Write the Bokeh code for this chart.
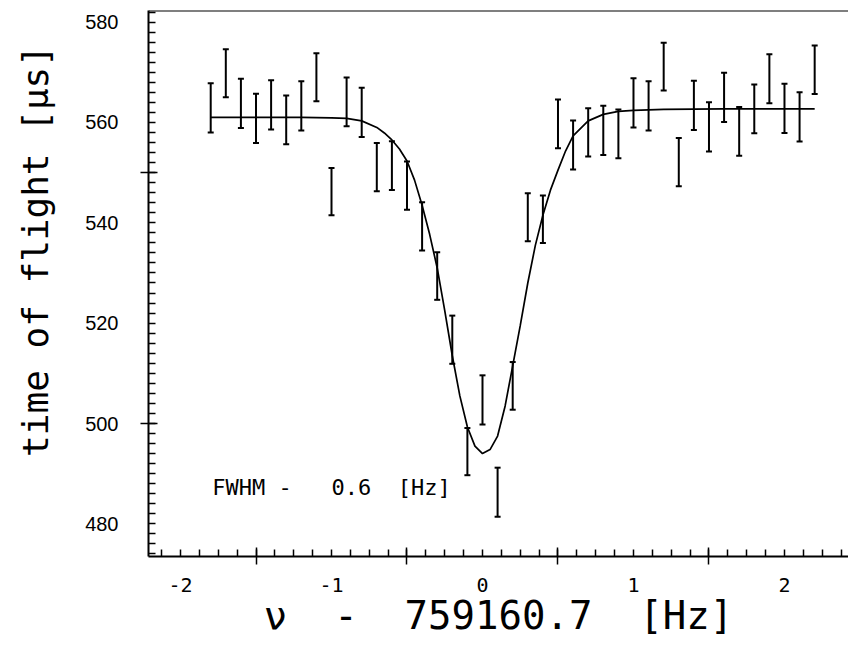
import numpy as np
from bokeh.plotting import figure
from bokeh.models import (ColumnDataSource, Whisker, TeeHead, LinearAxis,
                          FixedTicker, Span, Label, Range1d, CustomJSTickFormatter)
from bokeh.embed import file_html
from bokeh.resources import INLINE

# ---------------- data ----------------
freq = [-1.8, -1.7, -1.6, -1.5, -1.4, -1.3, -1.2, -1.1, -1.0, -0.9, -0.8,
        -0.7, -0.6, -0.5, -0.4, -0.3, -0.2, -0.1, 0.0, 0.1, 0.2,
        0.3, 0.4, 0.5, 0.6, 0.7, 0.8, 0.9, 1.0, 1.1, 1.2,
        1.3, 1.4, 1.5, 1.6, 1.7, 1.8, 1.9, 2.0, 2.1, 2.2]
tof = [562.9, 569.8, 563.8, 560.8, 563.5, 560.5, 563.3, 569.0, 546.2, 564.1, 562.0,
       551.1, 551.4, 547.4, 539.3, 529.4, 516.7, 494.4, 504.7, 486.3, 507.5,
       541.1, 540.7, 559.7, 555.5, 558.0, 558.4, 557.7, 563.9, 563.3, 571.1,
       552.1, 563.4, 559.1, 565.0, 558.2, 562.7, 568.7, 562.8, 561.1, 570.5]
err = [4.9, 4.8, 4.9, 4.9, 4.9, 4.85, 4.9, 4.8, 4.7, 4.85, 4.9,
       4.8, 4.85, 4.8, 4.8, 4.75, 4.8, 4.7, 4.9, 4.9, 4.75,
       4.8, 4.75, 4.85, 4.9, 4.8, 4.9, 4.85, 4.9, 4.9, 4.75,
       4.8, 4.9, 4.9, 4.9, 4.85, 4.85, 4.9, 4.9, 4.9, 4.85]

fit_freq = [-1.8, -1.5, -1.2, -1.0, -0.9, -0.8, -0.7, -0.65, -0.6, -0.55, -0.5,
            -0.45, -0.4, -0.35, -0.3, -0.25, -0.2, -0.15, -0.1, -0.05, 0.0,
            0.05, 0.1, 0.15, 0.2, 0.25, 0.3, 0.35, 0.4, 0.45, 0.5,
            0.55, 0.6, 0.7, 0.8, 0.9, 1.0, 1.2, 1.6, 2.2]
fit_tof = [561.0, 561.0, 561.0, 560.9, 560.8, 560.3, 559.0, 557.9, 556.5, 554.7, 552.3,
           548.5, 543.5, 537.7, 531.0, 522.5, 513.5, 505.5, 499.3, 495.5, 494.0,
           494.8, 497.5, 503.5, 511.5, 519.5, 528.0, 535.5, 541.5, 546.5, 550.5,
           554.3, 557.3, 560.3, 561.6, 562.2, 562.4, 562.6, 562.7, 562.7]

x_tick_values = [-2, -1, 0, 1, 2]
y_tick_values = [480, 500, 520, 540, 560, 580]
x_long_ticks = [-1.5, -0.5, 0.5, 1.5, 2.5]
y_long_ticks = [500, 550]

NB = "\u00a0"
x_title = "\u03bd" + NB * 2 + "-" + NB * 2 + "759160.7" + NB * 2 + "[Hz]"
y_title = NB * 3 + "time of flight [\u03bcs]"
note = "FWHM" + NB + "-" + NB * 3 + "0.6" + NB * 2 + "[Hz]"

# ---------------- figure ----------------
p = figure(width=848, height=642, output_backend="svg", toolbar_location=None,
           x_range=Range1d(-2.212, 2.424), y_range=Range1d(473.5, 582.3),
           x_axis_location=None, y_axis_location=None,
           min_border_left=148, min_border_right=0, min_border_top=10,
           min_border_bottom=86)
p.outline_line_color = None
p.background_fill_color = "white"
p.border_fill_color = "white"
p.grid.visible = False

# inner (spine) axes with tick marks
y_minor = list(np.arange(474, 583, 2))
x_minor = list(np.arange(-2.125, 2.49, 0.125))

ly_in = LinearAxis(ticker=FixedTicker(ticks=y_long_ticks, minor_ticks=y_minor))
lx_in = LinearAxis(ticker=FixedTicker(ticks=x_long_ticks, minor_ticks=x_minor))
for ax in (ly_in, lx_in):
    ax.axis_line_color = "black"
    ax.axis_line_width = 2
    ax.major_tick_line_color = "black"
    ax.major_tick_line_width = 1.5
    ax.major_tick_in = 9
    ax.major_tick_out = 8
    ax.minor_tick_line_color = "black"
    ax.minor_tick_line_width = 1.5
    ax.minor_tick_in = 7
    ax.minor_tick_out = 0
    ax.major_label_text_font_size = "1px"
    ax.major_label_text_color = None
    ax.major_label_standoff = 0
p.add_layout(ly_in, "left")
p.add_layout(lx_in, "below")

# outer axes carrying the labels and titles
ly_lab = LinearAxis(ticker=FixedTicker(ticks=y_tick_values, minor_ticks=[]))
ly_lab.major_label_text_font = "Liberation Sans"
ly_lab.major_label_text_font_size = "20px"
ly_lab.major_label_standoff = 22
ly_lab.axis_label = y_title
ly_lab.axis_label_text_font = "DejaVu Sans Mono"
ly_lab.axis_label_text_font_size = "36px"
ly_lab.axis_label_text_font_style = "normal"
ly_lab.axis_label_standoff = 26

lx_lab = LinearAxis(ticker=FixedTicker(ticks=x_tick_values, minor_ticks=[]),
                    formatter=CustomJSTickFormatter(code="return tick.toFixed(0)"))
lx_lab.major_label_text_font = "DejaVu Sans Mono"
lx_lab.major_label_text_font_size = "20px"
lx_lab.major_label_standoff = 13
lx_lab.axis_label = x_title
lx_lab.axis_label_text_font = "DejaVu Sans Mono"
lx_lab.axis_label_text_font_size = "39px"
lx_lab.axis_label_text_font_style = "normal"
lx_lab.axis_label_standoff = -2
for ax in (ly_lab, lx_lab):
    ax.axis_line_color = None
    ax.major_tick_line_color = None
    ax.minor_tick_line_color = None
    ax.major_tick_in = 0
    ax.major_tick_out = 0
    ax.minor_tick_in = 0
    ax.minor_tick_out = 0
    ax.major_label_text_color = "black"
    ax.axis_label_text_color = "black"
p.add_layout(ly_lab, "left")
p.add_layout(lx_lab, "below")

# top frame line
p.add_layout(Span(location=582.3, dimension="width", line_color="black", line_width=2))

# fit curve
p.line(fit_freq, fit_tof, line_color="black", line_width=1.7)

# error bars
src = ColumnDataSource(dict(
    x=freq,
    lo=[t - e for t, e in zip(tof, err)],
    hi=[t + e for t, e in zip(tof, err)],
))
p.add_layout(Whisker(base="x", upper="hi", lower="lo", source=src,
                     line_color="black", line_width=2,
                     upper_head=TeeHead(size=6, line_width=2, line_color="black"),
                     lower_head=TeeHead(size=6, line_width=2, line_color="black")))

# annotation text
p.add_layout(Label(x=-1.79, y=487.3, text=note, text_font="DejaVu Sans Mono",
                   text_font_size="22px", text_baseline="middle", text_align="left",
                   text_color="black"))

open("out.html", "w").write(file_html(p, INLINE))
